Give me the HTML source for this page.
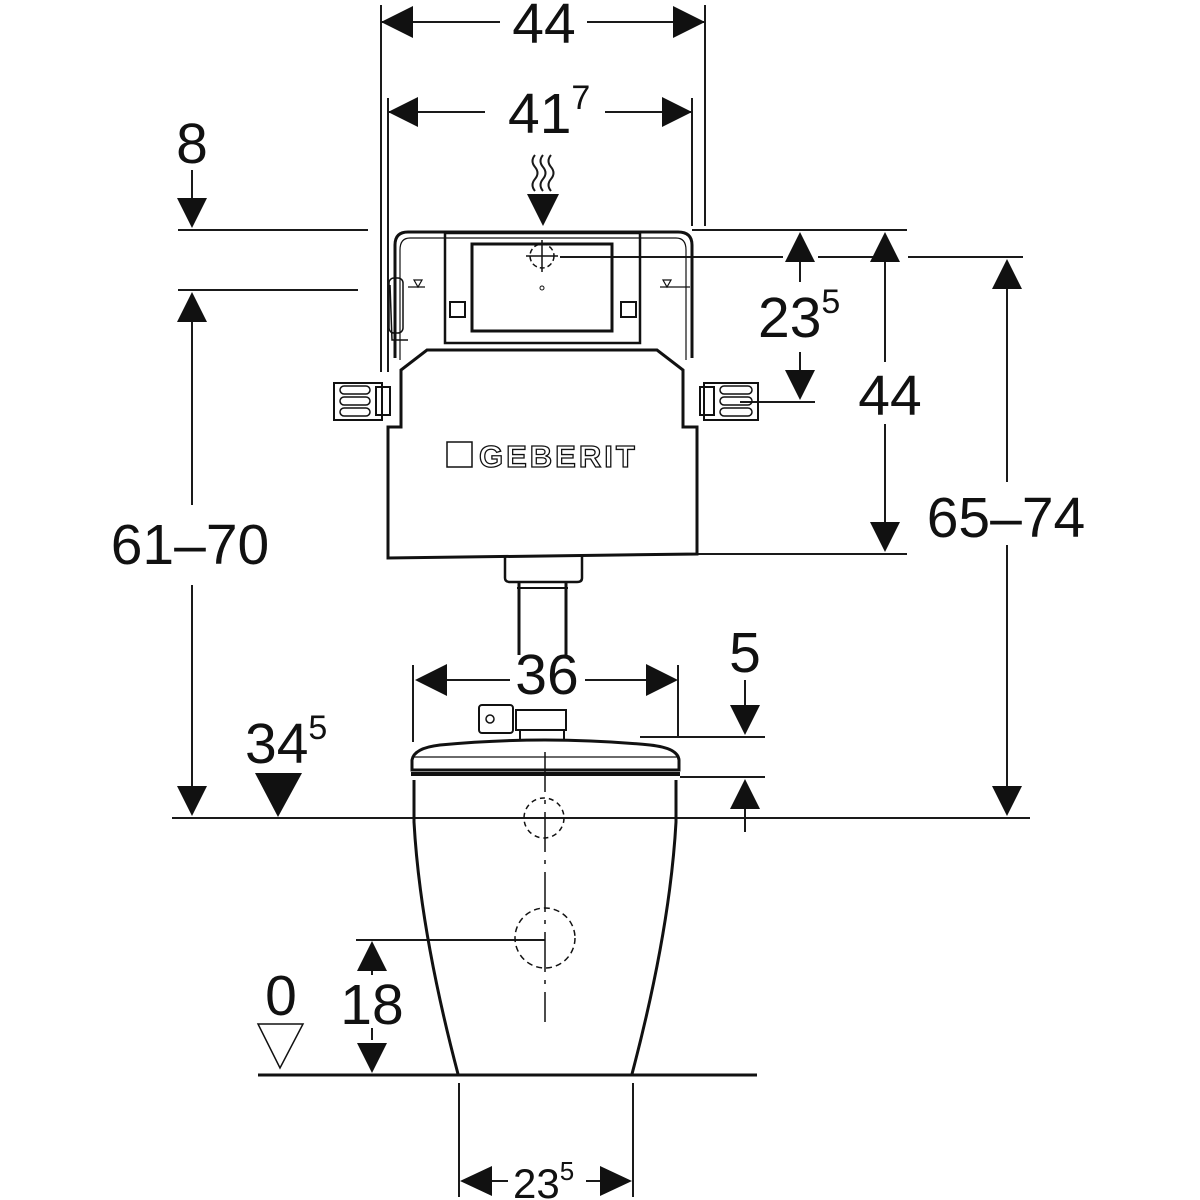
<!DOCTYPE html>
<html><head><meta charset="utf-8"><style>
html,body{margin:0;padding:0;background:#fff;}
svg{display:block;}
text{font-family:"Liberation Sans",sans-serif;fill:#111;}
</style></head><body>
<svg width="1200" height="1200" viewBox="0 0 1200 1200" xmlns="http://www.w3.org/2000/svg">
<g stroke="#1a1a1a" stroke-width="2" fill="none">
<line x1="381" y1="5" x2="381" y2="372"/>
<line x1="705" y1="5" x2="705" y2="226"/>
<line x1="381" y1="22" x2="500" y2="22"/><line x1="587" y1="22" x2="705" y2="22"/>
<line x1="388" y1="98" x2="388" y2="372"/>
<line x1="692" y1="98" x2="692" y2="226"/>
<line x1="388" y1="112" x2="485" y2="112"/><line x1="605" y1="112" x2="692" y2="112"/>
<line x1="192" y1="170" x2="192" y2="205"/>
<line x1="178" y1="230" x2="368" y2="230"/>
<line x1="178" y1="290" x2="358" y2="290"/>
<line x1="192" y1="320" x2="192" y2="505"/>
<line x1="192" y1="585" x2="192" y2="790"/>
<line x1="172" y1="818" x2="1030" y2="818"/>
<line x1="692" y1="230" x2="907" y2="230"/>
<line x1="560" y1="257" x2="783" y2="257"/><line x1="818" y1="257" x2="875" y2="257"/><line x1="908" y1="257" x2="1023" y2="257"/>
<line x1="740" y1="402" x2="815" y2="402"/>
<line x1="800" y1="260" x2="800" y2="282"/>
<line x1="800" y1="352" x2="800" y2="372"/>
<line x1="885" y1="260" x2="885" y2="362"/>
<line x1="885" y1="424" x2="885" y2="525"/>
<line x1="697" y1="554" x2="907" y2="554"/>
<line x1="1007" y1="287" x2="1007" y2="482"/>
<line x1="1007" y1="545" x2="1007" y2="790"/>
<line x1="413" y1="665" x2="413" y2="742"/>
<line x1="678" y1="665" x2="678" y2="736"/>
<line x1="445" y1="680" x2="510" y2="680"/><line x1="585" y1="680" x2="648" y2="680"/>
<line x1="745" y1="680" x2="745" y2="708"/>
<line x1="640" y1="737" x2="765" y2="737"/>
<line x1="680" y1="777" x2="765" y2="777"/>
<line x1="745" y1="808" x2="745" y2="832"/>
<line x1="356" y1="940" x2="545" y2="940"/>
<line x1="372" y1="970" x2="372" y2="975"/>
<line x1="372" y1="1028" x2="372" y2="1040"/>
<line x1="459" y1="1083" x2="459" y2="1197"/>
<line x1="633" y1="1083" x2="633" y2="1197"/>
<line x1="490" y1="1181" x2="508" y2="1181"/><line x1="586" y1="1181" x2="603" y2="1181"/>
<path d="M535 155 q-5 6 0 12 q5 6 0 12 q-5 6 0 12" />
<path d="M543 155 q-5 6 0 12 q5 6 0 12 q-5 6 0 12" />
<path d="M551 155 q-5 6 0 12 q5 6 0 12 q-5 6 0 12" />
</g>
<g fill="#111">
<polygon points="381,22 413,6 413,38"/><polygon points="705,22 673,6 673,38"/>
<polygon points="388,112 418,97 418,127"/><polygon points="692,112 662,97 662,127"/>
<polygon points="192,228 177,198 207,198"/>
<polygon points="192,292 177,322 207,322"/>
<polygon points="192,816 177,786 207,786"/>
<polygon points="543,226 527,194 559,194"/>
<polygon points="800,232 785,262 815,262"/>
<polygon points="800,400 785,370 815,370"/>
<polygon points="885,232 870,262 900,262"/>
<polygon points="885,552 870,522 900,522"/>
<polygon points="1007,259 992,289 1022,289"/>
<polygon points="1007,816 992,786 1022,786"/>
<polygon points="415,680 447,664 447,696"/><polygon points="678,680 646,664 646,696"/>
<polygon points="745,735 730,705 760,705"/>
<polygon points="745,779 730,809 760,809"/>
<polygon points="278,817 255,773 302,773"/>
<polygon points="372,941 357,971 387,971"/>
<polygon points="372,1073 357,1043 387,1043"/>
<polygon points="460,1181 492,1166 492,1196"/><polygon points="632,1181 600,1166 600,1196"/>
</g>
<polygon points="258,1024 303,1024 280,1068" fill="none" stroke="#111" stroke-width="1.5"/>
<g stroke="#111" fill="none">
<path d="M395 358 L395 245 Q395 232 408 232 L678 232 Q692 232 692 245 L692 358" stroke-width="3"/>
<path d="M400 360 L400 250 Q400 238 410 238 L676 238 Q686 238 686 250 L686 360" stroke-width="1.2"/>
<rect x="445" y="233" width="195" height="110" stroke-width="2.5"/>
<rect x="472" y="244" width="140" height="87" stroke-width="3"/>
<rect x="450" y="302" width="15" height="15" stroke-width="2"/>
<rect x="621" y="302" width="15" height="15" stroke-width="2"/>
<circle cx="542" cy="256" r="12" stroke-width="1.5" stroke-dasharray="5 3"/>
<line x1="526" y1="256" x2="558" y2="256" stroke-width="1.5"/>
<line x1="542" y1="240" x2="542" y2="272" stroke-width="1.5"/>
<circle cx="542" cy="288" r="2" stroke-width="1"/>
<path d="M388 558 L388 427 L401 427 L401 370 L427 350 L657 350 L683 370 L683 427 L697 427 L697 554 Z" stroke-width="3"/>
<path d="M390 285 L392 340 L408 340" stroke-width="1.5"/>
<rect x="389" y="278" width="14" height="55" rx="5" stroke-width="1.5"/>
<polygon points="414,280 422,280 418,287" stroke-width="1.2"/>
<polygon points="663,280 671,280 667,287" stroke-width="1.2"/>
<line x1="408" y1="287" x2="425" y2="287" stroke-width="1.2"/>
<line x1="660" y1="287" x2="690" y2="287" stroke-width="1.2"/>
<rect x="334" y="383" width="48" height="37" stroke-width="2"/>
<rect x="340" y="386" width="30" height="8" rx="4" stroke-width="1.5"/>
<rect x="340" y="397" width="30" height="8" rx="4" stroke-width="1.5"/>
<rect x="340" y="408" width="30" height="8" rx="4" stroke-width="1.5"/>
<rect x="376" y="387" width="14" height="28" stroke-width="2"/>
<rect x="704" y="383" width="54" height="37" stroke-width="2"/>
<rect x="720" y="386" width="32" height="8" rx="4" stroke-width="1.5"/>
<rect x="720" y="397" width="32" height="8" rx="4" stroke-width="1.5"/>
<rect x="720" y="408" width="32" height="8" rx="4" stroke-width="1.5"/>
<rect x="700" y="387" width="14" height="28" stroke-width="2"/>
<rect x="447" y="442" width="25" height="25" stroke-width="1.5"/>
<path d="M505 555 L505 578 Q505 582 510 582 L577 582 Q582 582 582 578 L582 555" stroke-width="2.5"/>
<line x1="519" y1="583" x2="519" y2="655" stroke-width="3"/>
<line x1="566" y1="583" x2="566" y2="655" stroke-width="3"/>
<line x1="517" y1="588" x2="568" y2="588" stroke-width="2"/>
<rect x="479" y="705" width="34" height="28" rx="3" stroke-width="2"/>
<circle cx="490" cy="719" r="4" stroke-width="1.5"/>
<rect x="516" y="710" width="50" height="20" stroke-width="2"/>
<rect x="520" y="730" width="44" height="10" stroke-width="2"/>
<path d="M412 770 L412 760 Q414 748 440 745 Q545 735 650 745 Q678 748 679 760 L679 770 Z" stroke-width="3"/>
<line x1="412" y1="757" x2="679" y2="757" stroke-width="1.2"/>
<line x1="411" y1="774" x2="680" y2="774" stroke-width="4"/>
<path d="M414 780 L414 822 Q420 930 458 1074" stroke-width="3"/>
<path d="M676 780 L676 822 Q670 930 632 1074" stroke-width="3"/>
<line x1="258" y1="1075" x2="757" y2="1075" stroke-width="3"/>
<circle cx="544" cy="818" r="20" stroke-width="1.5" stroke-dasharray="5 4"/>
<circle cx="545" cy="938" r="30" stroke-width="1.5" stroke-dasharray="6 4"/>
<line x1="545" y1="752" x2="545" y2="1022" stroke-width="1.5" stroke-dasharray="40 8 4 8"/>
</g>
<text x="479" y="467" font-size="31" font-weight="bold" letter-spacing="3" style="fill:#fff;stroke:#111;stroke-width:1.3px">GEBERIT</text>
<g font-size="57">
<text x="544" y="43" text-anchor="middle">44</text>
<text x="508" y="133">41<tspan font-size="34" dy="-24">7</tspan></text>
<text x="192" y="163" text-anchor="middle">8</text>
<text x="190" y="564" text-anchor="middle">61–70</text>
<text x="758" y="337">23<tspan font-size="34" dy="-24">5</tspan></text>
<text x="890" y="415" text-anchor="middle">44</text>
<text x="1006" y="537" text-anchor="middle">65–74</text>
<text x="547" y="694" text-anchor="middle">36</text>
<text x="745" y="672" text-anchor="middle">5</text>
<text x="245" y="763">34<tspan font-size="34" dy="-24">5</tspan></text>
<text x="281" y="1015" text-anchor="middle">0</text>
<text x="372" y="1024" text-anchor="middle">18</text>
</g>
<text x="513" y="1198" font-size="42">23<tspan font-size="26" dy="-18">5</tspan></text>
</svg>
</body></html>
